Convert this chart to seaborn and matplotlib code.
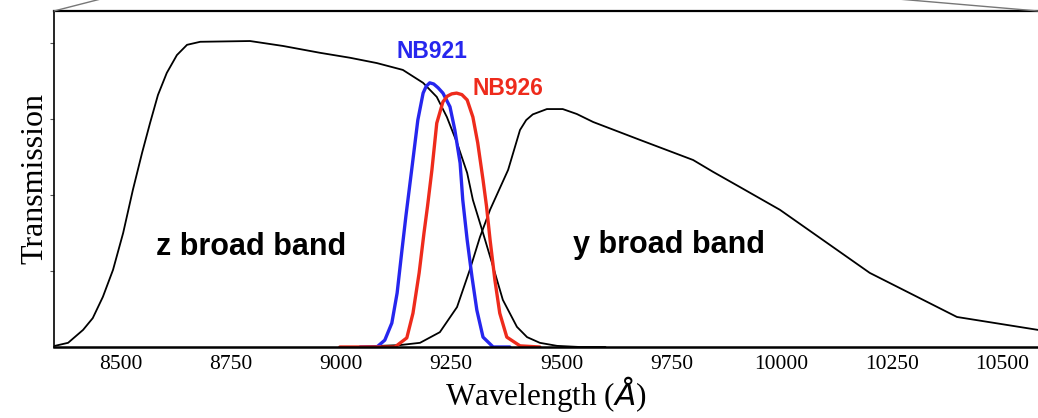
import matplotlib
matplotlib.use("Agg")
import matplotlib.pyplot as plt
from matplotlib.lines import Line2D
import seaborn as sns

# ---------------- data ----------------
z_wave = [8350, 8380, 8414, 8436, 8459, 8482, 8505, 8527, 8548, 8566, 8584, 8604,
          8627, 8650, 8680, 8793, 8868, 8952, 9020, 9081, 9140, 9186, 9217, 9240,
          9263, 9286, 9299, 9322, 9345, 9367, 9399, 9422, 9451, 9490, 9542, 9600]
z_trans = [0.003, 0.011, 0.045, 0.076, 0.132, 0.203, 0.300, 0.413, 0.511, 0.589, 0.663, 0.721,
           0.768, 0.795, 0.803, 0.805, 0.792, 0.774, 0.761, 0.747, 0.729, 0.695, 0.658, 0.605,
           0.537, 0.458, 0.387, 0.300, 0.211, 0.124, 0.053, 0.026, 0.011, 0.003, 0.0, 0.0]

y_wave = [9036, 9088, 9133, 9179, 9224, 9263, 9292, 9315, 9338, 9379, 9406, 9420, 9435,
          9467, 9503, 9535, 9572, 9678, 9799, 9844, 9905, 9996, 10071, 10200, 10398, 10582]
y_trans = [0.0, 0.003, 0.005, 0.011, 0.039, 0.105, 0.203, 0.289, 0.361, 0.466, 0.571, 0.597, 0.612,
           0.626, 0.626, 0.613, 0.592, 0.545, 0.492, 0.461, 0.421, 0.361, 0.300, 0.195, 0.079, 0.045]

nb921_wave = [9043, 9081, 9099, 9115, 9127, 9138, 9147, 9161, 9174, 9186, 9193, 9201, 9210,
              9220, 9231, 9247, 9258, 9270, 9276, 9286, 9297, 9308, 9322, 9345, 9383]
nb921_trans = [0.0, 0.0, 0.018, 0.063, 0.142, 0.255, 0.345, 0.475, 0.597, 0.668, 0.686, 0.695, 0.692,
               0.682, 0.668, 0.632, 0.571, 0.484, 0.387, 0.282, 0.184, 0.097, 0.026, 0.0, 0.0]

nb926_wave = [8997, 9099, 9122, 9149, 9163, 9177, 9188, 9196, 9206, 9217, 9231, 9241, 9251,
              9262, 9274, 9286, 9299, 9310, 9322, 9330, 9338, 9349, 9360, 9376, 9406, 9451]
nb926_trans = [0.0, 0.0, 0.0, 0.024, 0.089, 0.195, 0.300, 0.370, 0.466, 0.589, 0.645, 0.660, 0.666,
               0.668, 0.664, 0.650, 0.605, 0.537, 0.440, 0.370, 0.282, 0.176, 0.089, 0.026, 0.003, 0.0]

x_ticks = [8500, 8750, 9000, 9250, 9500, 9750, 10000, 10250, 10500]
y_ticks = [0.2, 0.4, 0.6, 0.8]

band_labels = ["z broad band", "y broad band", "NB921", "NB926"]
label_x = [8795, 9744, 9206, 9378]
label_y = [0.242, 0.247, 0.761, 0.663]

BLUE = "#2626ee"
RED = "#ee2b1c"

# ---------------- figure ----------------
sns.set_style("white")
plt.rcParams["font.family"] = ["Liberation Serif", "DejaVu Serif"]
plt.rcParams["mathtext.fontset"] = "dejavusans"
plt.rcParams["text.color"] = "black"
plt.rcParams["axes.labelcolor"] = "black"
plt.rcParams["xtick.color"] = "black"
plt.rcParams["ytick.color"] = "black"

fig = plt.figure(figsize=(10.38, 4.18), dpi=100)
W, H = 1038, 418
ax = fig.add_axes([54 / W, (H - 347) / H, (1038 - 54) / W, (347 - 11) / H])

sns.lineplot(x=z_wave, y=z_trans, ax=ax, color="black", linewidth=1.3, sort=False)
sns.lineplot(x=y_wave, y=y_trans, ax=ax, color="black", linewidth=1.3, sort=False)
sns.lineplot(x=nb921_wave, y=nb921_trans, ax=ax, color=BLUE, linewidth=2.4, sort=False)
sns.lineplot(x=nb926_wave, y=nb926_trans, ax=ax, color=RED, linewidth=2.4, sort=False)

ax.set_xlim(8348, 10582)
ax.set_ylim(0, 0.884)
ax.set_xticks(x_ticks)
ax.set_xticklabels([str(t) for t in x_ticks], fontsize=15.5, color="black")
ax.set_yticks(y_ticks)
ax.set_yticklabels([])
ax.tick_params(axis="x", length=0, pad=6, labelcolor="black")
ax.tick_params(axis="y", length=3, width=0.8, direction="out", left=True, color="#555555")

for s in ["left", "bottom", "top"]:
    ax.spines[s].set_color("black")
ax.spines["top"].set_linewidth(1.6)
ax.spines["bottom"].set_linewidth(1.8)
ax.spines["left"].set_linewidth(1.2)
ax.spines["right"].set_visible(False)

ax.set_xlabel("Wavelength ($Å$)", fontsize=22.5, labelpad=0, color="black")
ax.set_ylabel("Transmission", fontsize=23, labelpad=-3, color="black")

colors = ["black", "black", BLUE, RED]
sizes = [22, 22, 16.5, 16.5]
for txt, lx, ly, c, fs in zip(band_labels, label_x, label_y, colors, sizes):
    ax.text(lx, ly, txt, color=c, fontsize=fs, fontweight="bold",
            family=["Liberation Sans", "DejaVu Sans"], ha="center", va="baseline")

# zoom connector lines at the top corners
fig.add_artist(Line2D([54 / W, 100 / W], [(H - 11) / H, (H + 0.8) / H],
                      transform=fig.transFigure, color="#777777", linewidth=1.0))
fig.add_artist(Line2D([900 / W, 1038 / W], [(H + 0.8) / H, (H - 11) / H],
                      transform=fig.transFigure, color="#777777", linewidth=1.0))

fig.savefig("out.png", dpi=100)
